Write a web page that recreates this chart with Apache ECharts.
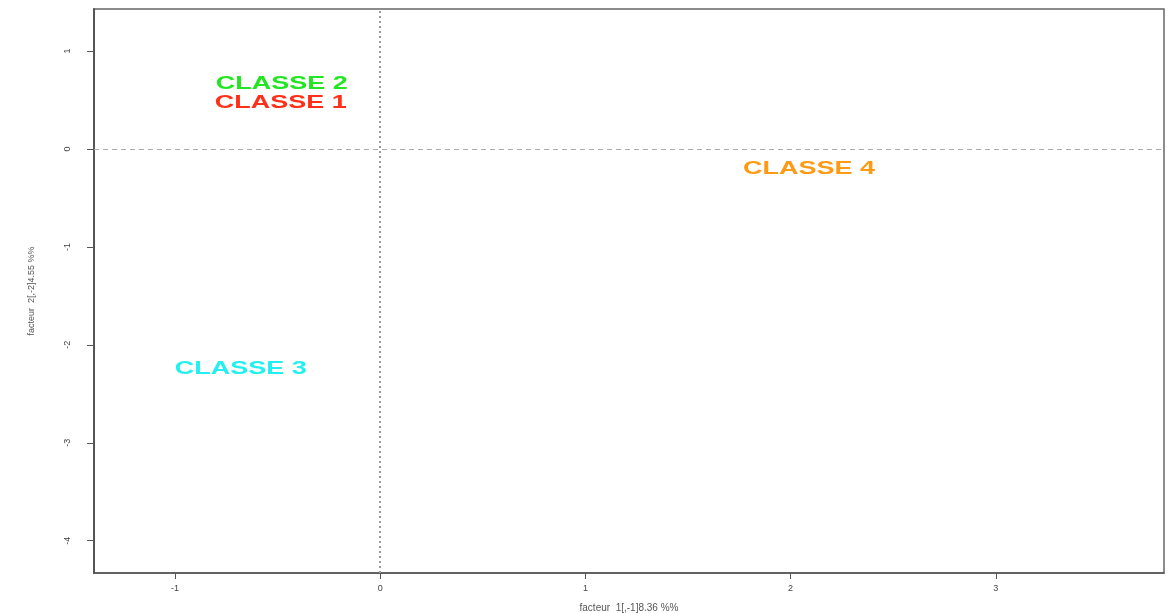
<!DOCTYPE html>
<html>
<head>
<meta charset="utf-8">
<script src="https://cdn.jsdelivr.net/npm/echarts@6/dist/echarts.min.js"></script>
<style>
html,body{margin:0;padding:0;background:#fff;}
#chart{width:1174px;height:613px;}
</style>
</head>
<body>
<div id="chart"></div>
<script>
const classNames = ['CLASSE 2', 'CLASSE 1', 'CLASSE 3', 'CLASSE 4'];
const xValues = [-0.48, -0.485, -0.68, 2.09];
const yValues = [0.67, 0.47, -2.24, -0.20];
const classColors = ['#22E622', '#FF3019', '#22F0F0', '#FF9A14'];
const xTicks = [-1, 0, 1, 2, 3];
const yTicks = [1, 0, -1, -2, -3, -4];
const xTitle = 'facteur  1[,-1]8.36 %%';
const yTitle = 'facteur  2[,-2]4.55 %%';

const chart = echarts.init(document.getElementById('chart'), null, {renderer: 'canvas'});
const data = classNames.map((n, i) => [xValues[i], yValues[i], i]);

chart.setOption({
  animation: false,
  backgroundColor: '#fff',
  grid: {left: 94, right: 10, top: 9, bottom: 40, outerBoundsMode: 'none', containLabel: false, show: true, borderColor: '#666', borderWidth: 1.5, backgroundColor: 'transparent'},
  xAxis: {
    type: 'value', min: -1.395, max: 3.82,
    name: xTitle, nameLocation: 'middle', nameGap: 30,
    nameTextStyle: {fontSize: 10, color: '#555', fontFamily: 'Liberation Sans'},
    axisLine: {show: true, onZero: false, lineStyle: {color: '#555', width: 1.5}},
    axisTick: {show: true, length: 6, customValues: xTicks, lineStyle: {color: '#555'}},
    axisLabel: {customValues: xTicks, margin: 11, fontSize: 9, color: '#444', fontFamily: 'Liberation Sans'},
    splitLine: {show: false}
  },
  yAxis: {
    type: 'value', min: -4.33, max: 1.43,
    name: yTitle, nameLocation: 'middle', nameGap: 58, nameRotate: 90,
    nameTextStyle: {fontSize: 9, color: '#555', fontFamily: 'Liberation Sans'},
    axisLine: {show: true, onZero: false, lineStyle: {color: '#555', width: 2}},
    axisTick: {show: true, length: 7, customValues: yTicks, lineStyle: {color: '#555'}},
    axisLabel: {customValues: yTicks, rotate: 90, margin: 22, fontSize: 9, color: '#444', fontFamily: 'Liberation Sans'},
    splitLine: {show: false}
  },
  series: [
    {
      type: 'custom',
      data: data,
      renderItem: function (params, api) {
        const p = api.coord([api.value(0), api.value(1)]);
        const i = api.value(2);
        return {
          type: 'text', x: p[0], y: p[1], scaleX: 1.42, scaleY: 1,
          style: {text: classNames[i], fill: classColors[i], font: 'bold 19px "Liberation Sans"', align: 'center', verticalAlign: 'middle'}
        };
      },
      markLine: {
        silent: true, symbol: 'none', label: {show: false},
        data: [
          {xAxis: 0, lineStyle: {type: [2, 3], color: '#999', width: 2}},
          {yAxis: 0, lineStyle: {type: [5, 4], color: '#aaa', width: 1}}
        ]
      }
    }
  ]
});
</script>
</body>
</html>
